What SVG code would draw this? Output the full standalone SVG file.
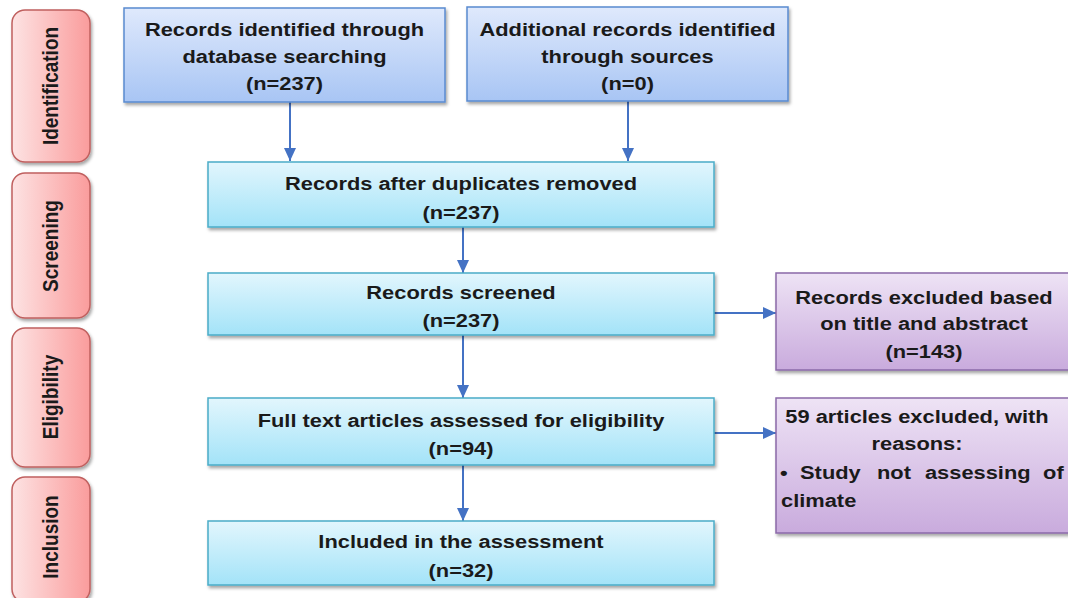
<svg xmlns="http://www.w3.org/2000/svg" width="1068" height="598" viewBox="0 0 1068 598">
<style>
.t{font-family:"Liberation Sans",Arial,sans-serif;font-weight:bold;font-size:19px;fill:#1a1a1a;text-anchor:middle}
.l{text-anchor:start}
.phase{fill:url(#gPink);stroke:#c0605f;stroke-width:1.5;filter:url(#sh)}
.blue{fill:url(#gBlue);stroke:#5a8ad0;stroke-width:1.5;filter:url(#sh)}
.cyan{fill:url(#gCyan);stroke:#4aacc8;stroke-width:1.5;filter:url(#sh)}
.purple{fill:url(#gPurple);stroke:#8a6aa8;stroke-width:1.5;filter:url(#sh)}
.c{stroke:#4472c4;stroke-width:2;fill:none;marker-end:url(#ah)}
</style>
<defs>
<linearGradient id="gPink" x1="0" y1="0" x2="1" y2="0"><stop offset="0" stop-color="#fde3e3"/><stop offset="1" stop-color="#fa9c9c"/></linearGradient>
<linearGradient id="gBlue" x1="0" y1="0" x2="0" y2="1"><stop offset="0" stop-color="#dfe9fc"/><stop offset="1" stop-color="#a8c5f4"/></linearGradient>
<linearGradient id="gCyan" x1="0" y1="0" x2="0" y2="1"><stop offset="0" stop-color="#e2f6fd"/><stop offset="1" stop-color="#a3e3f8"/></linearGradient>
<linearGradient id="gPurple" x1="0" y1="0" x2="0" y2="1"><stop offset="0" stop-color="#eee3f5"/><stop offset="1" stop-color="#c9abdd"/></linearGradient>
<filter id="sh" x="-10%" y="-10%" width="120%" height="130%"><feDropShadow dx="1.5" dy="2.5" stdDeviation="1.5" flood-color="#000" flood-opacity="0.35"/></filter>
<marker id="ah" markerUnits="userSpaceOnUse" markerWidth="14" markerHeight="14" viewBox="0 0 14 14" refX="13" refY="7" orient="auto"><path d="M0,1 L13,7 L0,13 Z" fill="#4472c4"/></marker>
</defs>

<g id="phase-identification"><rect class="phase" x="12" y="10" width="78" height="152" rx="13"/><text class="t" transform="translate(58,86) rotate(-90) scale(1,1.15)">Identification</text></g>
<g id="phase-screening"><rect class="phase" x="12" y="173" width="78" height="145" rx="13"/><text class="t" transform="translate(58,246) rotate(-90) scale(1,1.15)">Screening</text></g>
<g id="phase-eligibility"><rect class="phase" x="12" y="328" width="78" height="139" rx="13"/><text class="t" transform="translate(58,397) rotate(-90) scale(1,1.15)">Eligibility</text></g>
<g id="phase-inclusion"><rect class="phase" x="12" y="477" width="78" height="125" rx="13"/><text class="t" transform="translate(58,537) rotate(-90) scale(1,1.15)">Inclusion</text></g>

<g id="connectors">
<line class="c" x1="290" y1="102" x2="290" y2="161"/>
<line class="c" x1="628" y1="101" x2="628" y2="161"/>
<line class="c" x1="463" y1="227" x2="463" y2="273"/>
<line class="c" x1="463" y1="335" x2="463" y2="398"/>
<line class="c" x1="463" y1="465" x2="463" y2="521"/>
<line class="c" x1="714" y1="313" x2="776" y2="313"/>
<line class="c" x1="714" y1="433" x2="776" y2="433"/>
</g>

<g id="n-database"><rect class="blue" x="124" y="8" width="321" height="94"/>
<text class="t" transform="translate(284.5,36) scale(1.15,1)">Records identified through</text>
<text class="t" transform="translate(284.5,63) scale(1.15,1)">database searching</text>
<text class="t" transform="translate(284.5,90) scale(1.15,1)">(n=237)</text></g>

<g id="n-additional"><rect class="blue" x="467" y="7" width="321" height="94"/>
<text class="t" transform="translate(627.5,36) scale(1.15,1)">Additional records identified</text>
<text class="t" transform="translate(627.5,63) scale(1.15,1)">through sources</text>
<text class="t" transform="translate(627.5,90) scale(1.15,1)">(n=0)</text></g>

<g id="n-duplicates"><rect class="cyan" x="208" y="162" width="506" height="65"/>
<text class="t" transform="translate(461,190) scale(1.15,1)">Records after duplicates removed</text>
<text class="t" transform="translate(461,219) scale(1.15,1)">(n=237)</text></g>

<g id="n-screened"><rect class="cyan" x="208" y="273" width="506" height="62"/>
<text class="t" transform="translate(461,299) scale(1.15,1)">Records screened</text>
<text class="t" transform="translate(461,327) scale(1.15,1)">(n=237)</text></g>

<g id="n-fulltext"><rect class="cyan" x="208" y="398" width="506" height="67"/>
<text class="t" transform="translate(461,427) scale(1.15,1)">Full text articles assessed for eligibility</text>
<text class="t" transform="translate(461,455) scale(1.15,1)">(n=94)</text></g>

<g id="n-included"><rect class="cyan" x="208" y="521" width="506" height="64"/>
<text class="t" transform="translate(461,548) scale(1.15,1)">Included in the assessment</text>
<text class="t" transform="translate(461,577) scale(1.15,1)">(n=32)</text></g>

<g id="n-excluded-title"><rect class="purple" x="776" y="273" width="300" height="97"/>
<text class="t" transform="translate(924,304) scale(1.15,1)">Records excluded based</text>
<text class="t" transform="translate(924,330) scale(1.15,1)">on title and abstract</text>
<text class="t" transform="translate(924,358) scale(1.15,1)">(n=143)</text></g>

<g id="n-excluded-fulltext"><rect class="purple" x="776" y="398" width="300" height="135"/>
<text class="t" transform="translate(917,423) scale(1.15,1)">59 articles excluded, with</text>
<text class="t" transform="translate(917,450) scale(1.15,1)">reasons:</text>
<text class="t l" transform="translate(0,479) scale(1.15,1)"><tspan x="678.3">•</tspan><tspan x="695.7">Study</tspan><tspan x="762.6">not</tspan><tspan x="804.3">assessing</tspan><tspan x="907">of</tspan></text>
<text class="t l" transform="translate(781,507) scale(1.15,1)">climate</text></g>
</svg>
